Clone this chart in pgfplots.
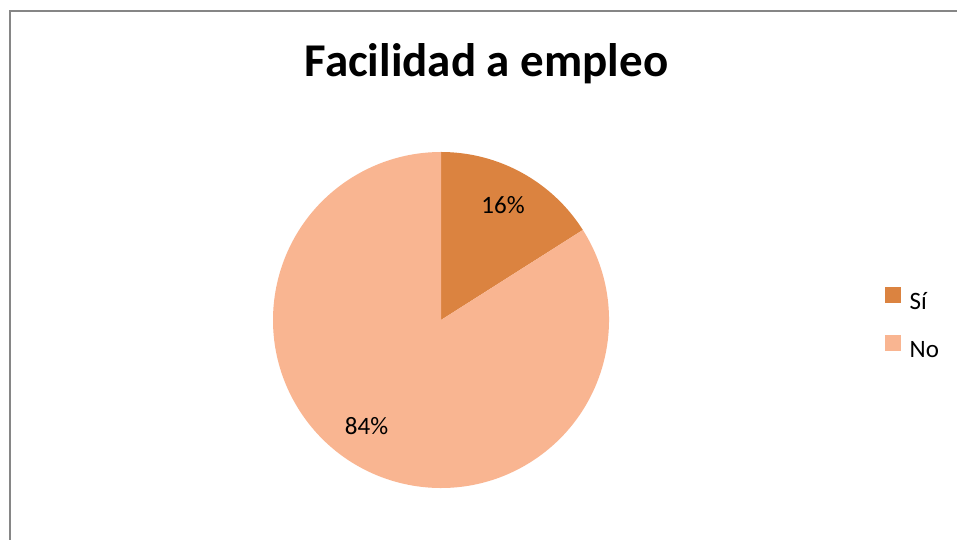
\documentclass[border=0pt]{standalone}
\usepackage{pgfplots}
\usepackage{pgfplotstable}
\pgfplotsset{compat=1.18}
\usepackage{fontspec}
\setmainfont{Carlito}
\definecolor{sicolor}{RGB}{219,131,64}
\definecolor{nocolor}{RGB}{249,181,145}
\definecolor{framegray}{RGB}{134,134,134}
\pgfplotstableread{
label value
Sí 16
No 84
}\piedata
\pgfplotstablegetelem{0}{value}\of\piedata \let\vSi\pgfplotsretval
\pgfplotstablegetelem{1}{value}\of\piedata \let\vNo\pgfplotsretval
\pgfmathsetmacro\aSi{\vSi/(\vSi+\vNo)*360}
\pgfmathsetmacro\eSi{90-\aSi}
\begin{document}
\begin{tikzpicture}[x=1bp,y=1bp]
\useasboundingbox (0,0) rectangle (957,540);
\clip (0,0) rectangle (957,540);
\fill[white] (0,0) rectangle (957,540);
\fill[framegray] (9,-20) rectangle (11,529.5);
\fill[framegray] (9,527.5) rectangle (980,529.5);
\begin{axis}[at={(0,0)}, anchor=south west, width=957bp, height=540bp,
  scale only axis, xmin=0, xmax=957, ymin=0, ymax=540, hide axis, clip=false,
  legend style={draw=none, fill=none, at={(axis cs:885,253)}, anchor=north west,
    inner sep=0pt, row sep=25.4bp, font=\fontsize{25bp}{30bp}\selectfont,
    nodes={inner sep=0pt, text height=15bp, text depth=0pt}},
  legend cell align=left,
  /tikz/every odd column/.append style={column sep=9bp},
]
\fill[sicolor] (axis cs:441,220) -- ++(90:168bp) arc[start angle=90, end angle=\eSi, radius=168bp] -- cycle;
\fill[nocolor] (axis cs:441,220) -- ++(\eSi:168bp) arc[start angle=\eSi, end angle=-270, radius=168bp] -- cycle;
\addlegendimage{legend image code/.code={\fill[sicolor] (0bp,0bp) rectangle (15bp,15bp);}}
\addlegendentry{Sí}
\addlegendimage{legend image code/.code={\fill[nocolor] (0bp,0bp) rectangle (15bp,15bp);}}
\addlegendentry{No}
\node[anchor=base, font=\fontsize{25bp}{30bp}\selectfont] at (axis cs:503,326.7) {16\%};
\node[anchor=base, font=\fontsize{25bp}{30bp}\selectfont] at (axis cs:366.5,105) {84\%};
\node[anchor=base, font=\fontsize{47bp}{56bp}\selectfont\bfseries] at (axis cs:486.5,463.3) {Facilidad a empleo};
\end{axis}
\end{tikzpicture}
\end{document}
